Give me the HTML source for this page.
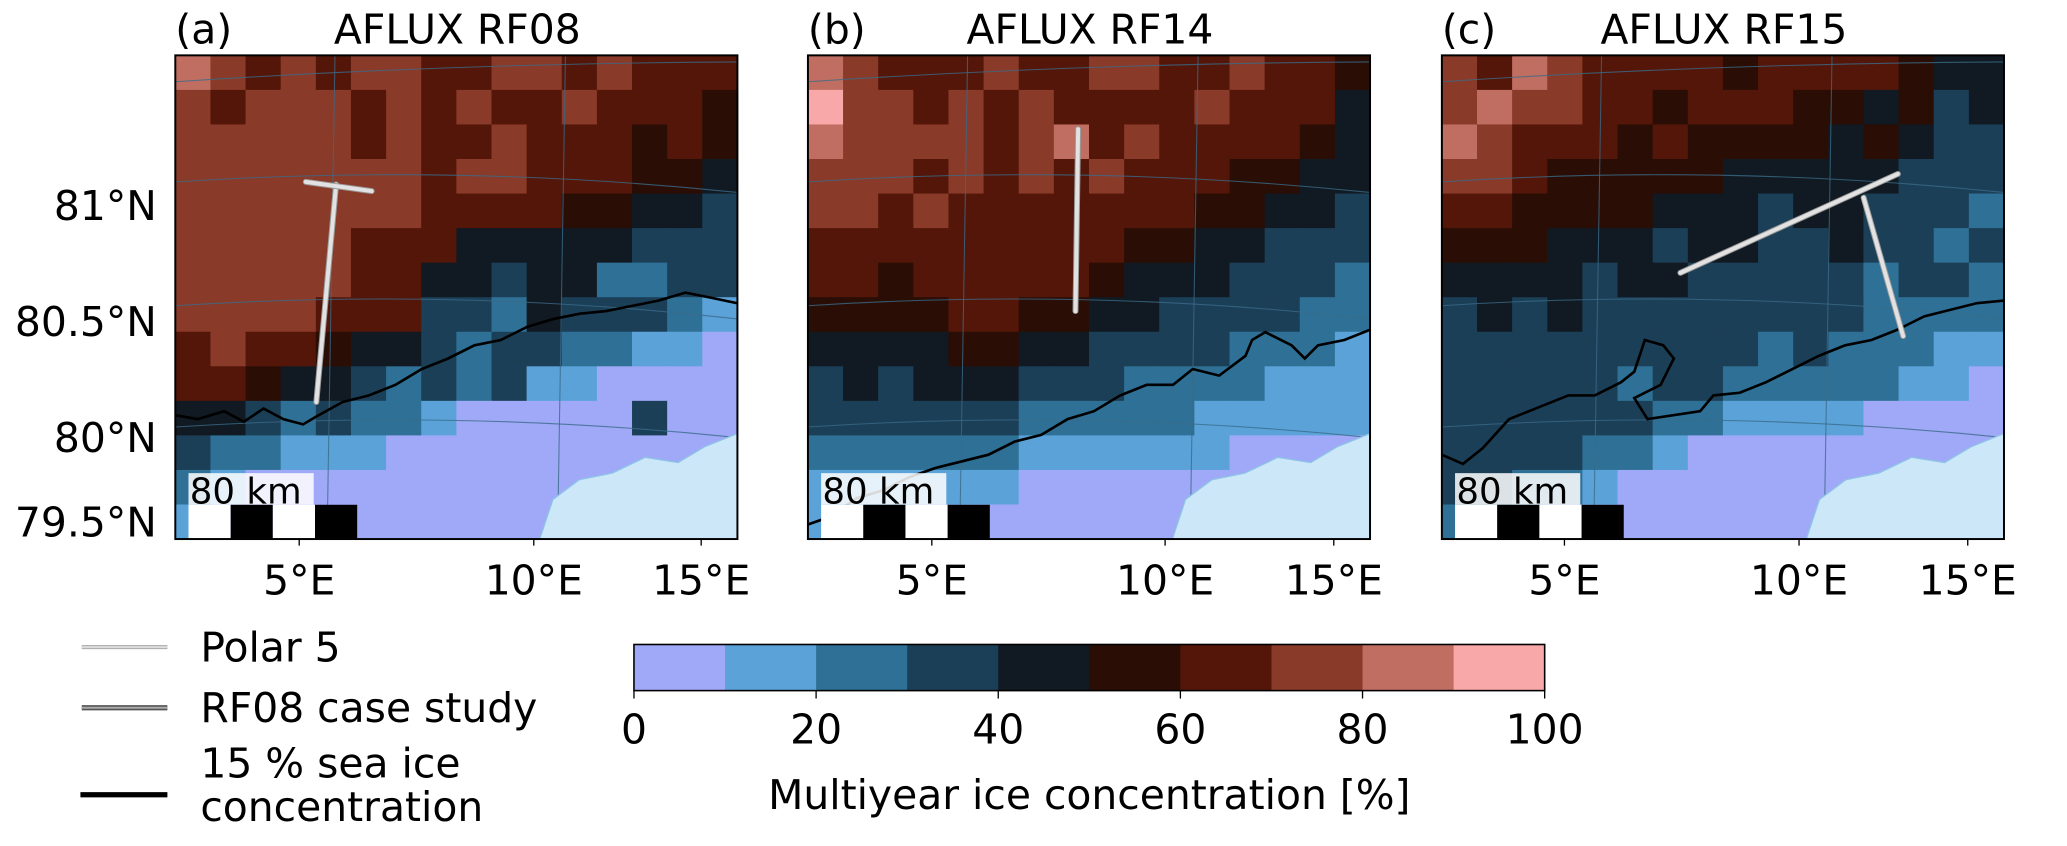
<!DOCTYPE html>
<html><head><meta charset="utf-8">
<style>
html,body{margin:0;padding:0;background:#fff;}
svg{display:block;font-family:"DejaVu Sans","Liberation Sans",sans-serif;}
</style></head>
<body>
<svg id="fig" width="2067" height="846" viewBox="0 0 1568.3 641.9" xmlns="http://www.w3.org/2000/svg">
</svg>
<script>
// ---- data ----
const colorLevels = [0,10,20,30,40,50,60,70,80,90,100];
const colorTicks = [0,20,40,60,80,100];
const latTicks = ["81°N","80.5°N","80°N","79.5°N"];
const lonTicks = ["5°E","10°E","15°E"];
const panelTitles = ["AFLUX RF08","AFLUX RF14","AFLUX RF15"];
const panelLetters = ["(a)","(b)","(c)"];
const gridA = [
"8767677667767666","7677767676676665","7777767667666565","7777777677666554",
"7777777666655443","7777766644444333","7777766443442233","7777666332433321",
"6766544323322110","6654432323110000","4432322100000300","3221110000000000",
"2100000000000000","1000000000000000"];
const gridB = [
"8766676677667665","9776767666676664","8777767867666654","7776767676665544",
"7767666666655443","6666666665544333","6656666654443332","5555665544333322",
"4444554433332221","3434443332222111","3333332222211111","2222221111110000",
"1111110000000000","1110000000000000"];
const gridC = [
"7687666656666544","7877665666554534","8766656555545433","7765555544444333",
"6655554443443332","5554443443343323","4444344333332332","3434333333332222",
"3333333332322211","3333323322222110","3333332211110000","3333221000000000",
"3322100000000000","2210000000000000"];
const grids=[gridA,gridB,gridC];
const cmap=["#a0a8f8","#5aa2d8","#2f7196","#1c3f58","#111a22","#2a0e05","#541608","#8a3a28","#c06e62","#f8a8a8"];

const svg=document.getElementById('fig');
const NS="http://www.w3.org/2000/svg";
const FS=31;
function mk(tag,attrs,parent){const e=document.createElementNS(NS,tag);for(const k in attrs)e.setAttribute(k,attrs[k]);(parent||svg).appendChild(e);return e;}
function txt(s,attrs,parent){const e=mk('text',attrs,parent);e.textContent=s;return e;}

const panelX=[133,613,1094], PW=426.5, PY=42, PH=367;
const latY=[156,244,332,396];
const lonX=[[227,405,532],[707,884,1012],[1187,1365,1493]];
const contours=[
"133,315 150,318 170,312 185,320 200,310 215,318 230,322 240,316 260,305 280,300 300,292 320,280 340,272 360,262 380,258 400,248 420,242 440,238 460,236 480,232 500,228 520,222 540,226 559,230",
"613,398 630,392 650,378 670,372 690,362 710,355 730,350 750,345 770,335 790,330 810,318 830,312 850,300 870,292 890,292 905,280 925,285 945,270 950,258 960,252 980,262 990,272 1000,262 1020,258 1040,250",
"1094,345 1110,352 1125,340 1145,318 1170,308 1190,300 1210,300 1230,290 1240,282 1248,258 1262,262 1270,272 1260,292 1240,302 1250,318 1290,312 1300,300 1320,298 1340,290 1360,280 1380,270 1400,262 1420,258 1440,250 1460,240 1480,235 1500,230 1521,228"];
const tracks=[
[[240,305,255,140],[232,138,282,145]],
[[818,98,816,236]],
[[1275,207,1440,132],[1414,150,1444,255]]];

for(let p=0;p<3;p++){
  const x0=panelX[p];
  const g=mk('g',{});
  
  
  const clipId='clip'+p;
  const cp=mk('clipPath',{id:clipId},g);mk('rect',{x:x0,y:PY,width:PW,height:PH},cp);
  const inner=mk('g',{'clip-path':'url(#'+clipId+')'},g);
  const rows=grids[p],nr=rows.length,nc=rows[0].length;
  const cw=PW/nc,ch=PH/nr;
  for(let r=0;r<nr;r++)for(let c=0;c<nc;c++){
    const v=+rows[r][c];
    const cell=mk('rect',{x:x0+c*cw,y:PY+r*ch,width:cw+0.6,height:ch+0.6,fill:cmap[v]},inner);
    
    
  }
  [[PY+20,PY+5],[PY+96,PY+104],[PY+190,PY+200],[PY+282,PY+290]].forEach(l=>{
    mk('path',{d:`M${x0},${l[0]} Q${x0+PW/2},${l[0]-14} ${x0+PW},${l[1]}`,stroke:'#3a6a88','stroke-width':0.8,fill:'none',opacity:0.8},inner);
  });
  [0.27,0.68].forEach(f=>{mk('line',{x1:x0+PW*f+6,y1:PY,x2:x0+PW*f,y2:PY+PH,stroke:'#3a6a88','stroke-width':0.8,opacity:0.8},inner);});
  const land=mk('path',{d:`M${x0+PW-150},${PY+PH} L${x0+PW-140},${PY+PH-30} L${x0+PW-120},${PY+PH-45} L${x0+PW-95},${PY+PH-50} L${x0+PW-70},${PY+PH-62} L${x0+PW-45},${PY+PH-58} L${x0+PW-25},${PY+PH-70} L${x0+PW},${PY+PH-80} L${x0+PW},${PY+PH} Z`,fill:'#cce8f8',stroke:'#8ec4e6','stroke-width':1},inner);
  
  
  const ct=mk('polyline',{points:contours[p],fill:'none',stroke:'#000','stroke-width':2},inner);
  
  
  tracks[p].forEach(t=>{
    mk('line',{x1:t[0],y1:t[1],x2:t[2],y2:t[3],stroke:'#9a9a9a','stroke-width':4.5,'stroke-linecap':'round'},inner);
    const tl=mk('line',{x1:t[0],y1:t[1],x2:t[2],y2:t[3],stroke:'#e2e2e2','stroke-width':3,'stroke-linecap':'round'},inner);
    
    
  });
  const sb=mk('g',{},inner);
  
  
  mk('rect',{x:x0+10,y:359,width:95,height:24,fill:'#fff',opacity:0.85},sb);
  txt('80 km',{x:x0+11,y:382,'font-size':27},sb);
  ['#fff','#000','#fff','#000'].forEach((c,i)=>mk('rect',{x:x0+10+i*32,y:383,width:32,height:27,fill:c},sb));
  mk('rect',{x:x0,y:PY,width:PW,height:PH,fill:'none',stroke:'#000','stroke-width':1.5},g);
  const tl=txt(panelLetters[p],{x:x0,y:33,'font-size':FS},g);
  
  
  const tt=txt(panelTitles[p],{x:x0+214,y:33,'font-size':FS,'text-anchor':'middle'},g);
  
  
  lonTicks.forEach((s,i)=>{
    mk('line',{x1:lonX[p][i],y1:PY+PH,x2:lonX[p][i],y2:PY+PH+5,stroke:'#000','stroke-width':1},g);
    const t=txt(s,{x:lonX[p][i],y:451,'font-size':FS,'text-anchor':'middle'},g);
    
    
  });
  if(p==0){
    latTicks.forEach((s,i)=>{
      const t=txt(s,{x:119,y:latY[i]+11,'font-size':FS,'text-anchor':'end'},g);
      
      
    });
  }
}

// legend
const leg=mk('g',{});


mk('line',{x1:62,y1:491,x2:127,y2:491,stroke:'#aaa','stroke-width':3},leg);
mk('line',{x1:62,y1:491,x2:127,y2:491,stroke:'#ddd','stroke-width':1.5},leg);
txt('Polar 5',{x:152,y:502,'font-size':FS},leg);
mk('line',{x1:62,y1:537,x2:127,y2:537,stroke:'#555','stroke-width':4},leg);
mk('line',{x1:62,y1:537,x2:127,y2:537,stroke:'#aaa','stroke-width':1.5},leg);
txt('RF08 case study',{x:152,y:548,'font-size':FS},leg);
mk('line',{x1:61,y1:603,x2:127,y2:603,stroke:'#000','stroke-width':4},leg);
txt('15 % sea ice',{x:152,y:590,'font-size':FS},leg);
txt('concentration',{x:152,y:623,'font-size':FS},leg);

// colorbar
const cb=mk('g',{});


const cbX0=481,cbX1=1172,cbY=489,cbH=35;
const cx=v=>cbX0+(v-colorLevels[0])/(colorLevels[colorLevels.length-1]-colorLevels[0])*(cbX1-cbX0);
for(let i=0;i<colorLevels.length-1;i++){
  const r=mk('rect',{x:cx(colorLevels[i]),y:cbY,width:cx(colorLevels[i+1])-cx(colorLevels[i])+0.5,height:cbH,fill:cmap[i]},cb);
  
  
}
mk('rect',{x:cbX0,y:cbY,width:cbX1-cbX0,height:cbH,fill:'none',stroke:'#000','stroke-width':1.2},cb);
colorTicks.forEach(v=>{
  mk('line',{x1:cx(v),y1:cbY+cbH,x2:cx(v),y2:cbY+cbH+6,stroke:'#000','stroke-width':1},cb);
  const t=txt(String(v),{x:cx(v),y:564,'font-size':FS,'text-anchor':'middle'},cb);
  
  
});
const cl=txt('Multiyear ice concentration [%]',{x:(cbX0+cbX1)/2,y:614,'font-size':FS,'text-anchor':'middle'},cb);


</script>
</body></html>
